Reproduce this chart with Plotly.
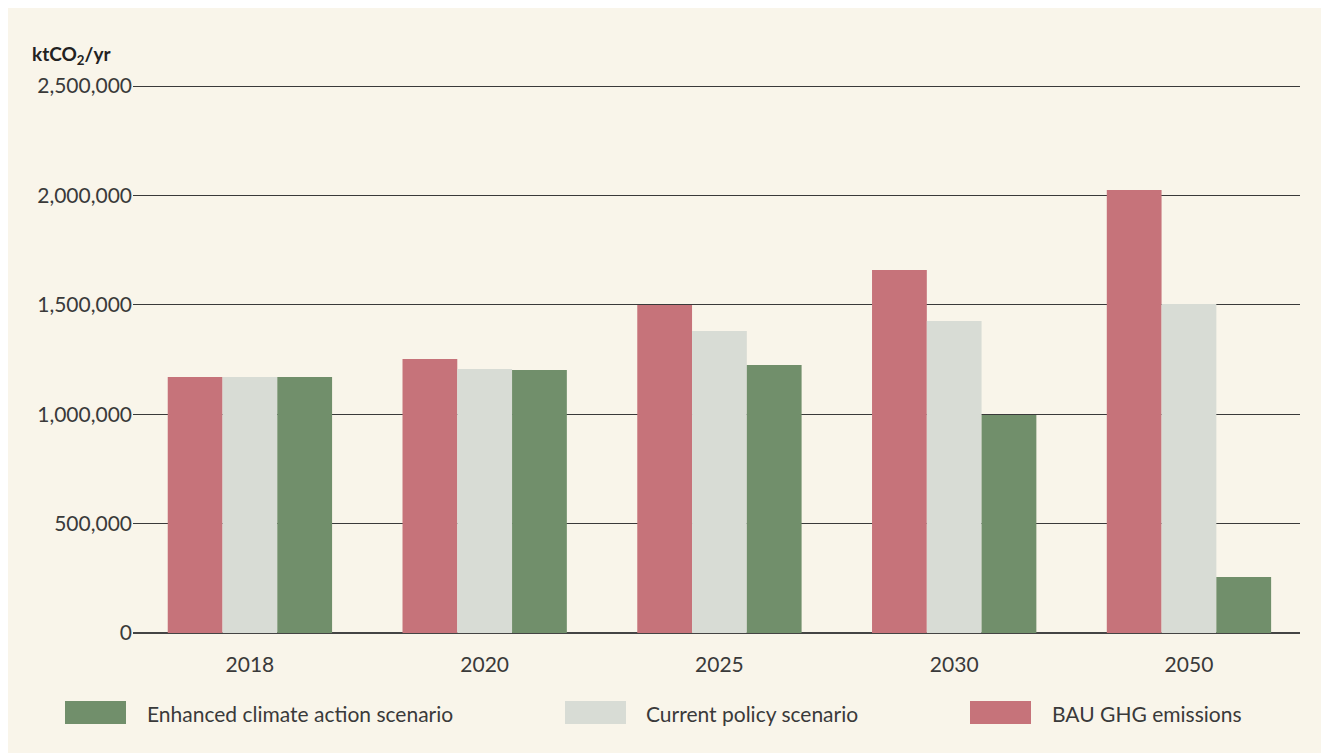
import plotly.graph_objects as go

years = ["2018", "2020", "2025", "2030", "2050"]
bau = [1170000, 1252000, 1499000, 1659000, 2025000]
current = [1170000, 1207000, 1380000, 1426000, 1504000]
enhanced = [1170000, 1202000, 1225000, 996000, 256000]

series_names = ["BAU GHG emissions", "Current policy scenario", "Enhanced climate action scenario"]
series_colors = ["#c6737a", "#d8dcd5", "#718f6b"]
series_values = [bau, current, enhanced]

y_ticks = [0, 500000, 1000000, 1500000, 2000000, 2500000]
y_ticklabels = ["0", "500,000", "1,000,000", "1,500,000", "2,000,000", "2,500,000"]

OFF = 8  # page body margin
W, H = 1329 - OFF, 753 - OFF
L, R, T, B = 133 - OFF, 29, 86 - OFF, 120
FONT = "Lato"
TXT = "#3a3a3a"
BG = "#f9f5ea"
FS = 21
YMAX = y_ticks[-1]

fig = go.Figure()
for name, col, vals in zip(series_names, series_colors, series_values):
    fig.add_trace(go.Bar(x=years, y=vals, name=name, marker=dict(color=col, line=dict(width=0)),
                         showlegend=False))

fig.update_layout(
    width=W, height=H,
    margin=dict(l=L, r=R, t=T, b=B),
    paper_bgcolor=BG, plot_bgcolor=BG,
    barmode="group", bargap=0.3, bargroupgap=0,
    font=dict(family=FONT, color=TXT, size=FS),
    xaxis=dict(type="category", range=[-0.498, 4.473], showgrid=False, ticks="outside", ticklen=13,
               tickcolor="rgba(0,0,0,0)", tickfont=dict(size=FS, color=TXT),
               showline=False, zeroline=False),
    yaxis=dict(range=[0, YMAX], tickvals=y_ticks, ticktext=y_ticklabels,
               showgrid=True, gridcolor="#3a3a3a", gridwidth=1,
               zeroline=True, zerolinecolor="#444444", zerolinewidth=2,
               tickfont=dict(size=FS, color=TXT), ticks="", showline=False),
)

plot_w = W - L - R
plot_h = H - T - B

# top gridline at the range edge (plotly hides the native one); half-pixel inset for crispness
fig.add_shape(type="line", xref="paper", yref="paper", x0=0, x1=1,
              y0=1 - 0.5 / plot_h, y1=1 - 0.5 / plot_h,
              line=dict(color="#3a3a3a", width=1))

def px_x(p):
    return (p - OFF - L) / plot_w
def px_y(p):
    return (H - B - (p - OFF)) / plot_h

# unit title
fig.add_annotation(text="<b>ktCO<sub>2</sub>/yr</b>", xref="paper", yref="paper",
                   x=px_x(30), y=px_y(55),
                   xanchor="left", yanchor="middle", showarrow=False,
                   font=dict(size=19, color="#222222", family=FONT))

# custom legend
legend_items = [
    ("Enhanced climate action scenario", "#718f6b", 65, 145),
    ("Current policy scenario", "#d8dcd5", 565, 644),
    ("BAU GHG emissions", "#c6737a", 970, 1050),
]
for label, col, sx, tx in legend_items:
    fig.add_shape(type="rect", xref="paper", yref="paper",
                  x0=px_x(sx), x1=px_x(sx + 61), y0=px_y(724), y1=px_y(701),
                  fillcolor=col, line=dict(width=0))
    fig.add_annotation(text=label, xref="paper", yref="paper",
                       x=px_x(tx), y=px_y(713), xanchor="left", yanchor="middle",
                       showarrow=False, font=dict(size=FS, color=TXT, family=FONT))

fig.write_html("out.html")
